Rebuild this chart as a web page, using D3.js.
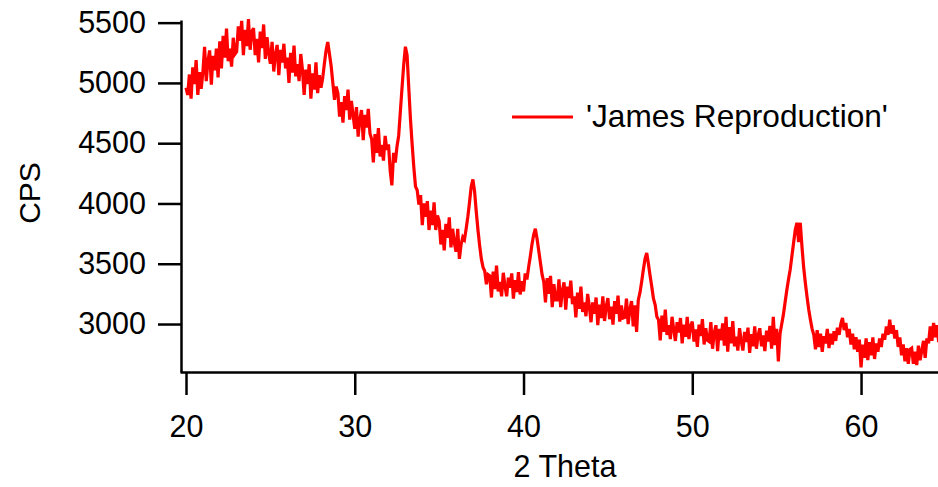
<!DOCTYPE html>
<html>
<head>
<meta charset="utf-8">
<script src="https://cdn.jsdelivr.net/npm/d3@7"></script>
<style>
  body { margin: 0; background: #fff; }
  text { font-family: "Liberation Sans", Arial, sans-serif; fill: #000; }
</style>
</head>
<body>
<div id="xrd"></div>
<script>
// Scan grid: 2 Theta from 20.0 in steps of 0.1 degrees
const thetaStart = 20.0;
const thetaStep = 0.1;

// CPS, one row per degree
const cps20to30 = [
  4960, 4900, 5070, 4870, 5130, 4990, 5190, 4900, 5090, 4950,
  5090, 5300, 5015, 5180, 5270, 4985, 5225, 5105, 5285, 5045,
  5345, 5120, 5390, 5210, 5450, 5180, 5285, 5135, 5375, 5240,
  5260, 5470, 5350, 5515, 5230, 5440, 5305, 5530, 5275, 5425,
  5455, 5230, 5365, 5170, 5425, 5290, 5485, 5200, 5380, 5245,
  5160, 5340, 5095, 5235, 5315, 5065, 5275, 5170, 5325, 5120,
  5210, 5000, 5250, 5085, 5310, 5055, 5155, 5015, 5240, 5110,
  4900, 5110, 4990, 5155, 4870, 5080, 4945, 5170, 4915, 5065,
  4960, 5040, 5160, 5270, 5340, 5240, 5140, 5000, 4860, 4970,
  4915, 4720, 4840, 4670, 4890, 4775, 4945, 4695, 4850, 4735
];
const cps30to40 = [
  4620, 4800, 4555, 4695, 4775, 4525, 4735, 4630, 4785, 4580,
  4535, 4340, 4575, 4420, 4625, 4390, 4485, 4355, 4560, 4445,
  4490, 4270, 4150, 4420, 4340, 4470, 4560, 4760, 4960, 5150,
  5300, 5230, 4960, 4700, 4490, 4300, 4140, 4110, 3990, 4070,
  3820, 4000, 3890, 4020, 3780, 3940, 3820, 4010, 3780, 3900,
  3855, 3660, 3780, 3610, 3830, 3715, 3885, 3635, 3790, 3675,
  3600, 3790, 3540, 3660, 3720, 3700, 3790, 3890, 4010, 4140,
  4200, 4100, 3930, 3780, 3650, 3540, 3470, 3440, 3330, 3410,
  3400, 3220, 3435, 3290, 3485, 3270, 3350, 3230, 3425, 3315,
  3230, 3385, 3300, 3420, 3210, 3365, 3265, 3430, 3245, 3355
];
const cps40to50 = [
  3270, 3420, 3370, 3470, 3560, 3660, 3740, 3790, 3710, 3610,
  3510, 3410, 3350, 3180, 3380, 3250, 3400, 3140, 3330, 3200,
  3200, 3370, 3140, 3275, 3345, 3120, 3310, 3215, 3360, 3165,
  3230, 3055, 3260, 3125, 3310, 3100, 3180, 3065, 3250, 3145,
  3015, 3180, 3085, 3220, 2990, 3160, 3050, 3230, 3025, 3145,
  3215, 3040, 3145, 2995, 3190, 3085, 3235, 3020, 3155, 3050,
  3055, 3210, 3000, 3120, 3190, 2980, 3155, 2935, 3200, 3260,
  3350, 3450, 3540, 3590, 3500, 3400, 3310, 3210, 3160, 3060,
  3035, 2865, 3070, 2935, 3120, 2910, 2990, 2875, 3060, 2955,
  2860, 3015, 2930, 3050, 2840, 2995, 2895, 3060, 2875, 2985
];
const cps50to60 = [
  3020, 2855, 2955, 2810, 2995, 2900, 3040, 2830, 2965, 2865,
  2855, 3015, 2795, 2925, 2990, 2775, 2960, 2865, 3005, 2820,
  3060, 2770, 2975, 2840, 3025, 2815, 2895, 2780, 2965, 2860,
  2780, 2935, 2850, 2970, 2760, 2915, 2815, 2980, 2795, 2905,
  2965, 2815, 2905, 2775, 2945, 2855, 2985, 2795, 3060, 2825,
  2960, 2690, 2920, 3000, 3080, 3180, 3280, 3370, 3450, 3560,
  3670, 3780, 3840, 3680, 3840, 3640, 3470, 3340, 3225, 3120,
  3035, 2960, 2910, 2790, 2950, 2810, 2920, 2770, 2900, 2840,
  2960, 2800, 2920, 2830, 2940, 2860, 2970, 2910, 3000, 3050,
  2950, 3010, 2890, 2960, 2830, 2920, 2790, 2890, 2770, 2870
];
const cps60to65 = [
  2640, 2830, 2720, 2880, 2700, 2850, 2740, 2890, 2710, 2840,
  2770, 2880, 2810, 2920, 2870, 2980, 2910, 3035, 2920, 2990,
  2880, 2950, 2810, 2890, 2740, 2830, 2690, 2800, 2670, 2790,
  2800, 2670, 2770, 2660, 2820, 2700, 2780, 2860, 2720, 2880,
  2840, 2980, 2860, 3010, 2890, 2990, 2850
];

const xTicks = [20, 30, 40, 50, 60];
const yTicks = [3000, 3500, 4000, 4500, 5000, 5500];
const seriesName = "'James Reproduction'";

const cps = [].concat(cps20to30, cps30to40, cps40to50, cps50to60, cps60to65);
const data = cps.map((v, i) => ({ theta: thetaStart + i * thetaStep, cps: v }));

const width = 938, height = 487;

const svg = d3.select("#xrd")
  .append("svg")
  .attr("width", width)
  .attr("height", height);

// Scales: axis corner at (181, 372)
const x = d3.scaleLinear().domain([19.644, 64.56]).range([180, 938]);
const y = d3.scaleLinear().domain([2602, 5522]).range([372, 20]);

// Clip the trace to the plot area
svg.append("clipPath").attr("id", "area")
  .append("rect").attr("x", 181).attr("y", 0).attr("width", 760).attr("height", 372);

// The trace (thick stroke so the noise reads as a band)
const line = d3.line().x(d => x(d.theta)).y(d => y(d.cps));
svg.append("path")
  .datum(data)
  .attr("clip-path", "url(#area)")
  .attr("fill", "none")
  .attr("stroke", "#ff0000")
  .attr("stroke-width", 3.2)
  .attr("d", line);

// Y axis
const yAxis = svg.append("g")
  .attr("transform", "translate(181,0)")
  .call(d3.axisLeft(y).tickValues(yTicks).tickFormat(d3.format("d"))
    .tickSize(23).tickSizeOuter(0).tickPadding(12));

// X axis
const xAxis = svg.append("g")
  .attr("transform", "translate(0,372)")
  .call(d3.axisBottom(x).tickValues(xTicks).tickFormat(d3.format("d"))
    .tickSize(23).tickSizeOuter(0));

[yAxis, xAxis].forEach(g => {
  g.selectAll("path, line").attr("stroke", "#000").attr("stroke-width", 2.5);
  g.selectAll("text").attr("font-size", "30.5px").attr("fill", "#000")
    .style("font-family", "'Liberation Sans', Arial, sans-serif");
});
xAxis.selectAll("text").attr("y", 65).attr("dy", null);

// Axis titles
svg.append("text")
  .attr("transform", "translate(40,193) rotate(-90)")
  .attr("text-anchor", "middle")
  .attr("font-size", "30px")
  .text("CPS");

svg.append("text")
  .attr("x", 565)
  .attr("y", 477)
  .attr("text-anchor", "middle")
  .attr("font-size", "30.5px")
  .text("2 Theta");

// Legend
svg.append("line")
  .attr("x1", 512).attr("x2", 573)
  .attr("y1", 117).attr("y2", 117)
  .attr("stroke", "#ff0000")
  .attr("stroke-width", 3);

svg.append("text")
  .attr("x", 586)
  .attr("y", 127)
  .attr("font-size", "31.6px")
  .text(seriesName);
</script>
</body>
</html>
